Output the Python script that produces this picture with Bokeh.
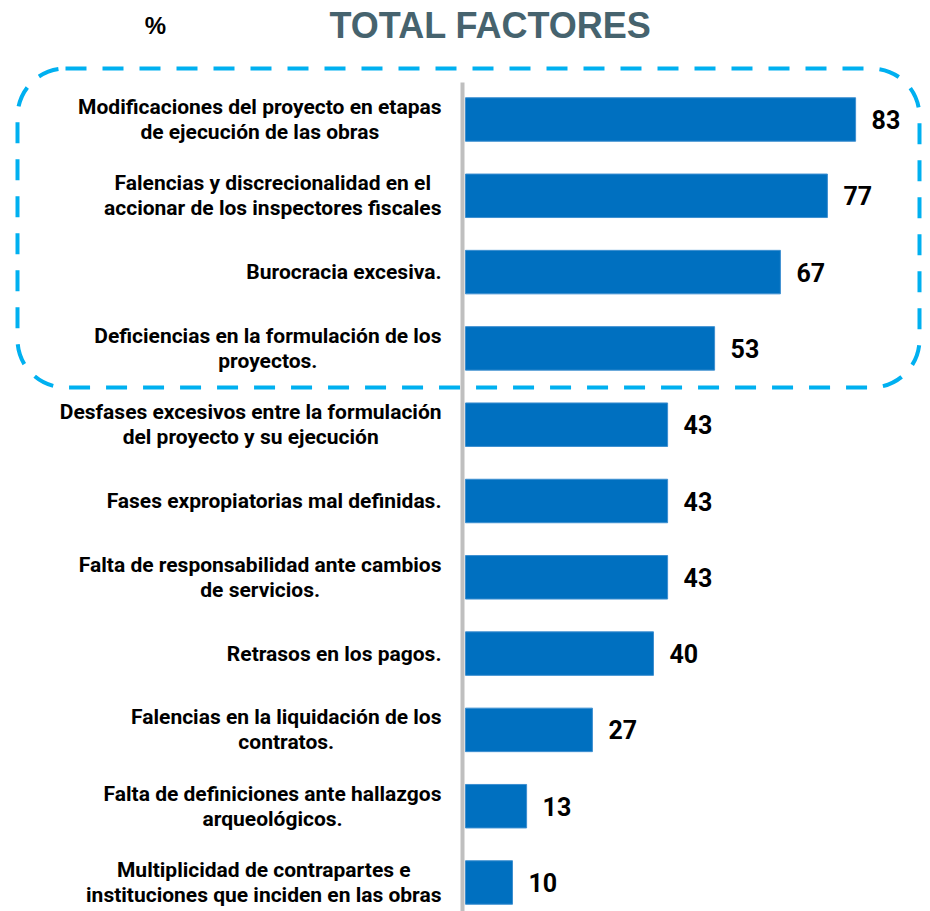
from bokeh.plotting import figure
from bokeh.models import ColumnDataSource, Range1d, BoxAnnotation
from bokeh.core.properties import value
from bokeh.embed import file_html
from bokeh.resources import INLINE

# ---- data ----
categories = [
    "Modificaciones del proyecto en etapas\nde ejecución de las obras",
    "Falencias y discrecionalidad en el\naccionar de los inspectores fiscales",
    "Burocracia excesiva.",
    "Deficiencias en la formulación de los\nproyectos.",
    "Desfases excesivos entre la formulación\ndel proyecto y su ejecución",
    "Fases expropiatorias mal definidas.",
    "Falta de responsabilidad ante cambios\nde servicios.",
    "Retrasos en los pagos.",
    "Falencias en la liquidación de los\ncontratos.",
    "Falta de definiciones ante hallazgos\narqueológicos.",
    "Multiplicidad de contrapartes e\ninstituciones que inciden en las obras",
]
values = [83, 77, 67, 53, 43, 43, 43, 40, 27, 13, 10]
value_labels = [str(v) for v in values]
title_text = "TOTAL FACTORES"
unit_text = "%"

# ---- layout constants ----
W, H = 922, 911
PX_PER_UNIT = 4.7          # horizontal pixels per percentage point
ZERO_PX = 465              # x pixel of value 0
ROW_PX = 76.3              # vertical pixels per row
TOP_ROW_PX = 119           # y pixel of first row center

n = len(values)
ypos = [n - 1 - i for i in range(n)]

def xd(px):
    return (px - ZERO_PX) / PX_PER_UNIT

def yd(py):
    return (n - 1) + (TOP_ROW_PX - py) / ROW_PX

p = figure(width=W, height=H, output_backend="svg", toolbar_location=None,
           x_range=Range1d(xd(0), xd(W)), y_range=Range1d(yd(H), yd(0)),
           min_border=0, outline_line_color=None)
p.axis.visible = False
p.grid.visible = False
p.background_fill_color = "white"
p.border_fill_color = "white"

src = ColumnDataSource(dict(y=ypos, v=values, cat=categories, lab=value_labels,
                            lx=[v + 16 / PX_PER_UNIT for v in values],
                            cx=[xd(441)] * n))

# dashed rounded highlight box around first four rows
box = BoxAnnotation(left=xd(17), right=xd(919), top=yd(68), bottom=yd(387),
                    fill_alpha=0, line_color="#00B0F0", line_alpha=1.0,
                    line_width=4, line_dash="21 16", border_radius=48,
                    level="underlay")
p.add_layout(box)

# vertical axis line
p.segment(x0=[xd(462)], x1=[xd(462)], y0=[yd(82)], y1=[yd(H)],
          line_color="#BFBFBF", line_width=4)

# bars
p.hbar(y="y", left=0, right="v", height=0.57, source=src,
       fill_color="#0070C0", line_color="#3D8FD0", line_width=1)

# value labels
p.text(x="lx", y="y", text="lab", source=src, text_align="left",
       text_baseline="middle", text_font=value("Roboto"),
       text_font_style="bold", text_font_size="25px", text_color="black")

# category labels
p.text(x="cx", y="y", text="cat", source=src, anchor=value("center_right"),
       text_align="center", text_baseline="middle",
       text_font=value("Roboto"), text_font_style="bold",
       text_font_size="21px", text_color="black", text_line_height=1.05)

# title and unit
p.text(x=[xd(490)], y=[yd(25)], text=[title_text], text_align="center",
       text_baseline="middle", text_font=value("Liberation Sans"),
       text_font_style="bold", text_font_size="36px", text_color="#46636E")
p.text(x=[xd(155)], y=[yd(25)], text=[unit_text], text_align="center",
       text_baseline="middle", text_font=value("Liberation Sans"),
       text_font_style="bold", text_font_size="24px", text_color="black")

open("out.html", "w").write(file_html(p, INLINE))
